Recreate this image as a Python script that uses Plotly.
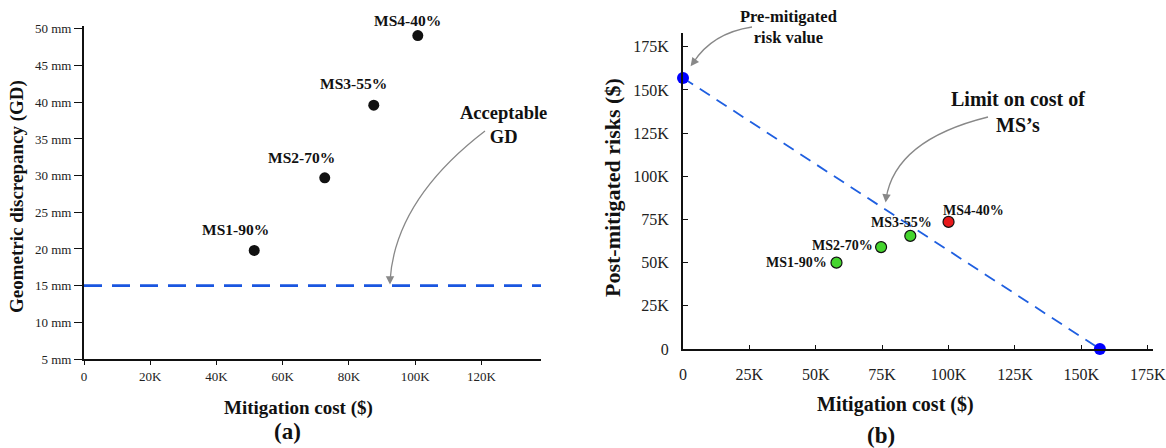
import plotly.graph_objects as go

# ---- data -------------------------------------------------------------
ms_labels_a = ["MS1-90%", "MS2-70%", "MS3-55%", "MS4-40%"]
ms_cost_a = [51400, 72700, 87500, 100800]          # $
ms_gd = [19.8, 29.7, 39.6, 49.1]                   # mm
acceptable_gd = 15                                 # mm

ms_labels_b = ["MS1-90%", "MS2-70%", "MS3-55%", "MS4-40%"]
ms_cost_b = [57800, 74600, 85600, 100000]          # $
ms_risk = [50000, 59000, 65500, 73600]             # $
ms_within_limit = [True, True, True, False]
pre_mitigated_risk = 157000                        # $

gd_ticks = [5, 10, 15, 20, 25, 30, 35, 40, 45, 50]
cost_ticks_a = [0, 20000, 40000, 60000, 80000, 100000, 120000]
cost_ticks_b = [0, 25000, 50000, 75000, 100000, 125000, 150000, 175000]
risk_ticks = [0, 25000, 50000, 75000, 100000, 125000, 150000, 175000]

W, H = 1166, 448
SERIF = "Liberation Serif"


def px(x):
    return x / W


def py(y):
    return 1 - y / H


def k_label(v):
    return "0" if v == 0 else f"{v // 1000}K"


def paper_text(text, x, y, size, angle=0):
    fig.add_annotation(x=px(x), y=py(y), xref="paper", yref="paper",
                       xanchor="center", yanchor="middle",
                       text=f"<b>{text}</b>", showarrow=False, textangle=angle,
                       font=dict(family=SERIF, size=size, color="#111"))


fig = go.Figure()

# ---- panel (a): geometric discrepancy vs cost --------------------------
fig.add_trace(go.Scatter(
    x=[0, 138000], y=[acceptable_gd, acceptable_gd], mode="lines",
    line=dict(color="#1a56e0", width=2.6, dash="18px,10px"),
    xaxis="x", yaxis="y", hoverinfo="skip", showlegend=False))
fig.add_trace(go.Scatter(
    x=ms_cost_a, y=ms_gd, mode="markers",
    marker=dict(color="#111111", size=11),
    xaxis="x", yaxis="y", showlegend=False, cliponaxis=False))

label_shift_a = [(-19, 21), (-23, 20), (-20, 22), (-10, 15)]
for lab, xv, yv, (dx, dy) in zip(ms_labels_a, ms_cost_a, ms_gd, label_shift_a):
    fig.add_annotation(x=xv, y=yv, xref="x", yref="y", text=f"<b>{lab}</b>",
                       showarrow=False, xanchor="center", yanchor="middle",
                       xshift=dx, yshift=dy,
                       font=dict(family=SERIF, size=15.5, color="#111"))

# ---- panel (b): post-mitigated risk vs cost ----------------------------
fig.add_trace(go.Scatter(
    x=[0, pre_mitigated_risk], y=[pre_mitigated_risk, 0], mode="lines",
    line=dict(color="#1f5fe0", width=1.8, dash="12px,8px"),
    xaxis="x2", yaxis="y2", hoverinfo="skip", showlegend=False))
fig.add_trace(go.Scatter(
    x=ms_cost_b, y=ms_risk, mode="markers",
    marker=dict(color=["#45d52e" if ok else "#e8191b" for ok in ms_within_limit],
                size=11, line=dict(color="#111", width=1.2)),
    xaxis="x2", yaxis="y2", showlegend=False, cliponaxis=False))
fig.add_trace(go.Scatter(
    x=[0, pre_mitigated_risk], y=[pre_mitigated_risk, 0], mode="markers",
    marker=dict(color="#0000ff", size=12),
    xaxis="x2", yaxis="y2", showlegend=False, cliponaxis=False))

label_pos_b = [("right", -7, 0), ("right", -6, 2), ("center", -9, 13), ("center", 25, 11)]
for lab, xv, yv, (anc, dx, dy) in zip(ms_labels_b, ms_cost_b, ms_risk, label_pos_b):
    fig.add_annotation(x=xv, y=yv, xref="x2", yref="y2", text=f"<b>{lab}</b>",
                       showarrow=False, xanchor=anc, yanchor="middle",
                       xshift=dx, yshift=dy,
                       font=dict(family=SERIF, size=14, color="#111"))

# ---- callouts with curved arrows ---------------------------------------
ARROW_GREY = "#888888"
callouts = [
    # text, text centre, curve start, control, curve end, arrow offset, font size
    ("Acceptable<br>GD", (503, 125), (485, 131), (395, 200), (390, 281), (0, -9), 18.5),
    ("Limit on cost of<br>MS’s", (1018, 112), (988, 117), (895, 140), (886, 199), (1, -9), 20),
    ("Pre-mitigated<br>risk value", (788, 27), (752, 27), (712, 33), (693, 63), (6, -8), 16.5),
]
for text, (tx, ty), (x0, y0), (cx, cy), (x1, y1), (ax, ay), fs in callouts:
    paper_text(text, tx, ty, fs)
    fig.add_shape(type="path", xref="paper", yref="paper",
                  path=f"M {px(x0)},{py(y0)} Q {px(cx)},{py(cy)} {px(x1)},{py(y1)}",
                  line=dict(color=ARROW_GREY, width=1.3))
    fig.add_annotation(x=px(x1 - ax * 0.4), y=py(y1 - ay * 0.4), xref="paper", yref="paper",
                       text="", showarrow=True, ax=ax, ay=ay,
                       arrowhead=2, arrowsize=1.3, arrowwidth=1.3, arrowcolor=ARROW_GREY)

# ---- axis titles and panel captions ------------------------------------
paper_text("Geometric discrepancy (GD)", 17, 197, 19, angle=-90)
paper_text("Mitigation cost ($)", 298, 408, 19)
paper_text("(a)", 287, 431, 23)
paper_text("Post-mitigated risks ($)", 612, 188, 22, angle=-90)
paper_text("Mitigation cost ($)", 895, 404, 20)
paper_text("(b)", 881, 435, 23)

axis_common = dict(showline=True, linecolor="#111", linewidth=2, showgrid=False,
                   zeroline=False, tickcolor="#111", tickwidth=1.2, automargin=False)

fig.update_layout(
    width=W, height=H,
    margin=dict(l=0, r=0, t=0, b=0, pad=0, autoexpand=False),
    paper_bgcolor="white", plot_bgcolor="white",
    font=dict(family=SERIF, color="#222"),
    xaxis=dict(domain=[px(84), px(541)], range=[0, 138000], anchor="y",
               tickvals=cost_ticks_a, ticktext=[k_label(v) for v in cost_ticks_a],
               ticks="outside", ticklen=4, tickfont=dict(size=13), **axis_common),
    yaxis=dict(domain=[py(359), py(26)], range=[5, 50.4], anchor="x",
               tickvals=gd_ticks, ticktext=[f"{v} mm" for v in gd_ticks],
               ticks="outside", ticklen=8, tickfont=dict(size=13), **axis_common),
    xaxis2=dict(domain=[px(683), px(1153)], range=[0, 177000], anchor="y2",
                tickvals=cost_ticks_b, ticktext=[k_label(v) for v in cost_ticks_b],
                ticks="inside", ticklen=4, ticklabelstandoff=10,
                tickfont=dict(size=16), **axis_common),
    yaxis2=dict(domain=[py(349), py(33)], range=[0, 183000], anchor="x2",
                tickvals=risk_ticks, ticktext=[k_label(v) for v in risk_ticks],
                ticks="inside", ticklen=5, ticklabelstandoff=9,
                tickfont=dict(size=16), **axis_common),
)

fig.write_html("out.html")
